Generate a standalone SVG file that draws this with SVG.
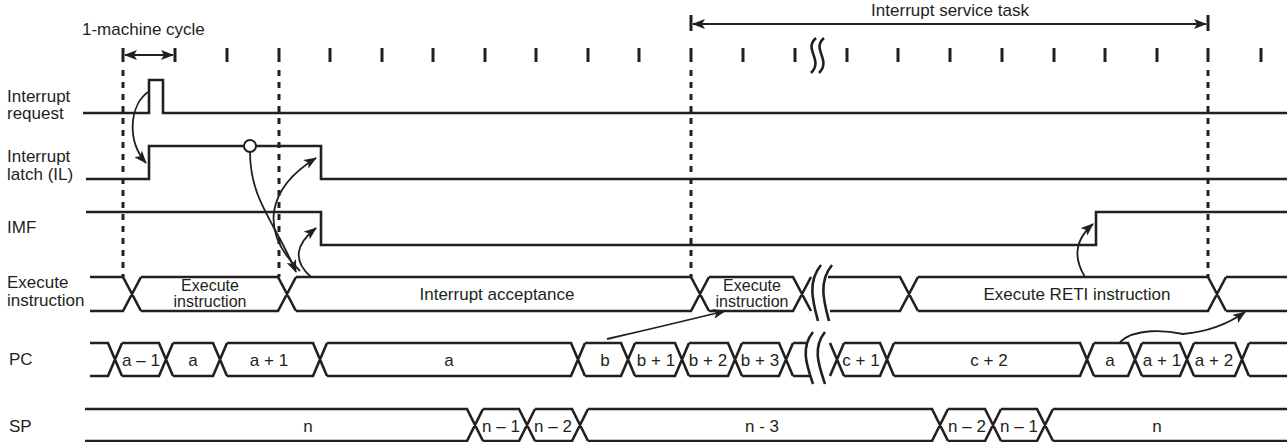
<svg xmlns="http://www.w3.org/2000/svg" width="1287" height="442" viewBox="0 0 1287 442">
<style>
.t{font-family:"Liberation Sans",Arial,Helvetica,sans-serif;font-size:17px;fill:#231f20}
.s{font-size:16px}
.m{text-anchor:middle}
.sig{fill:none;stroke:#231f20;stroke-width:2.6;stroke-linejoin:miter}
.tick{stroke:#231f20;stroke-width:3}
.dash{stroke:#231f20;stroke-width:3;stroke-dasharray:6 6}
.brk{fill:none;stroke:#231f20;stroke-width:2.6}
.con{fill:none;stroke:#231f20;stroke-width:1.8}
</style>
<defs>
<marker id="ah" viewBox="0 0 13 10" refX="12" refY="5" markerWidth="13" markerHeight="10" markerUnits="userSpaceOnUse" orient="auto-start-reverse">
<path d="M0,0 L13,5 L0,10 L3,5 Z" fill="#231f20"/>
</marker>
</defs>
<rect width="1287" height="442" fill="#fff"/>

<g id="timescale">
<text class="t" x="82" y="35">1-machine cycle</text>
<text class="t m" x="950" y="16">Interrupt service task</text>
<g class="tick">
<line x1="123" y1="48" x2="123" y2="62"/><line x1="175" y1="48" x2="175" y2="62"/>
<line x1="227" y1="48" x2="227" y2="62"/><line x1="279" y1="48" x2="279" y2="62"/>
<line x1="330" y1="48" x2="330" y2="62"/><line x1="382" y1="48" x2="382" y2="62"/>
<line x1="433" y1="48" x2="433" y2="62"/><line x1="485" y1="48" x2="485" y2="62"/>
<line x1="536" y1="48" x2="536" y2="62"/><line x1="588" y1="48" x2="588" y2="62"/>
<line x1="639" y1="48" x2="639" y2="62"/><line x1="691" y1="48" x2="691" y2="62"/>
<line x1="743" y1="48" x2="743" y2="62"/><line x1="795" y1="48" x2="795" y2="62"/>
<line x1="847" y1="48" x2="847" y2="62"/><line x1="898" y1="48" x2="898" y2="62"/>
<line x1="950" y1="48" x2="950" y2="62"/><line x1="1002" y1="48" x2="1002" y2="62"/>
<line x1="1054" y1="48" x2="1054" y2="62"/><line x1="1105" y1="48" x2="1105" y2="62"/>
<line x1="1157" y1="48" x2="1157" y2="62"/><line x1="1208" y1="48" x2="1208" y2="62"/>
<line x1="1261" y1="48" x2="1261" y2="62"/>
<line x1="691" y1="15" x2="691" y2="31"/><line x1="1208" y1="15" x2="1208" y2="31"/>
</g>
<path class="brk" d="M816 38 C803 49,824 60,811 73 M824 38 C811 49,832 60,819 73"/>
<g class="dash">
<line x1="123" y1="70" x2="123" y2="277"/><line x1="279" y1="70" x2="279" y2="277"/>
<line x1="691" y1="70" x2="691" y2="277"/><line x1="1208" y1="70" x2="1208" y2="277"/>
</g>
</g>

<g id="interrupt-request">
<text class="t" x="7" y="102">Interrupt</text>
<text class="t" x="7" y="119">request</text>
<path class="sig" d="M83 113 H149 V80 H163 V113 H1287"/>
</g>

<g id="interrupt-latch">
<text class="t" x="7" y="162">Interrupt</text>
<text class="t" x="7" y="180">latch (IL)</text>
<path class="sig" d="M86 179 H149 V146 H321 V179 H1287"/>
</g>

<g id="imf">
<text class="t" x="7" y="233">IMF</text>
<path class="sig" d="M86 212 H321 V245 H1096 V212 H1287"/>
</g>

<g id="execute-instruction">
<text class="t" x="7" y="288">Execute</text>
<text class="t" x="7" y="306">instruction</text>
<path class="sig" d="M90 277 H123 L141 311 M90 311 H123 L141 277
M141 277 H278 L296 311 M141 311 H278 L296 277
M296 277 H691 L709 311 M296 311 H691 L709 277
M709 277 H793 L811 311 M709 311 H793 L811 277
M828 277 H900 L918 311 M830 311 H900 L918 277
M918 277 H1208 L1226 311 M918 311 H1208 L1226 277
M1226 277 H1287 M1226 311 H1287"/>
<path class="brk" d="M821 265 C807 282,813 302,818 321 M832 265 C818 282,824 302,829 321"/>
<text class="t s m" x="210" y="291">Execute</text>
<text class="t s m" x="210" y="307">instruction</text>
<text class="t m" x="497" y="300">Interrupt acceptance</text>
<text class="t s m" x="752" y="291">Execute</text>
<text class="t s m" x="752" y="307">instruction</text>
<text class="t m" x="1077" y="300">Execute RETI instruction</text>
</g>

<g id="pc">
<text class="t" x="9" y="365">PC</text>
<path class="sig" d="M90 343 H108 L122 376 M90 376 H108 L122 343
M122 343 H159 L173 376 M122 376 H159 L173 343
M173 343 H213 L227 376 M173 376 H213 L227 343
M227 343 H313 L327 376 M227 376 H313 L327 343
M327 343 H571 L585 376 M327 376 H571 L585 343
M585 343 H621 L635 376 M585 376 H621 L635 343
M635 343 H675 L689 376 M635 376 H675 L689 343
M689 343 H728 L742 376 M689 376 H728 L742 343
M742 343 H779 L793 376 M742 376 H779 L793 343
M793 343 H807 M793 376 H810
M830 343 L844 376 M830 376 L844 343
M844 343 H880 L894 376 M844 376 H880 L894 343
M894 343 H1080 L1094 376 M894 376 H1080 L1094 343
M1094 343 H1128 L1142 376 M1094 376 H1128 L1142 343
M1142 343 H1180 L1194 376 M1142 376 H1180 L1194 343
M1194 343 H1235 L1249 376 M1194 376 H1235 L1249 343
M1249 343 H1287 M1249 376 H1287"/>
<path class="brk" d="M813 332 C800 348,807 366,813 384 M825 332 C812 348,819 366,825 384"/>
<text class="t m" x="141" y="366">a – 1</text>
<text class="t m" x="193" y="366">a</text>
<text class="t m" x="269" y="366">a + 1</text>
<text class="t m" x="449" y="366">a</text>
<text class="t m" x="605" y="366">b</text>
<text class="t m" x="656" y="366">b + 1</text>
<text class="t m" x="708" y="366">b + 2</text>
<text class="t m" x="760" y="366">b + 3</text>
<text class="t m" x="861" y="366">c + 1</text>
<text class="t m" x="989" y="366">c + 2</text>
<text class="t m" x="1110" y="366">a</text>
<text class="t m" x="1162" y="366">a + 1</text>
<text class="t m" x="1214" y="366">a + 2</text>
</g>

<g id="sp">
<text class="t" x="9" y="432">SP</text>
<path class="sig" d="M85 409 H467 L483 441 M85 441 H467 L483 409
M483 409 H519 L535 441 M483 441 H519 L535 409
M535 409 H572 L588 441 M535 441 H572 L588 409
M588 409 H932 L948 441 M588 441 H932 L948 409
M948 409 H985 L1001 441 M948 441 H985 L1001 409
M1001 409 H1037 L1053 441 M1001 441 H1037 L1053 409
M1053 409 H1287 M1053 441 H1287"/>
<text class="t m" x="308" y="432">n</text>
<text class="t m" x="501" y="432">n – 1</text>
<text class="t m" x="553" y="432">n – 2</text>
<text class="t m" x="762" y="432">n - 3</text>
<text class="t m" x="967" y="432">n – 2</text>
<text class="t m" x="1019" y="432">n – 1</text>
<text class="t m" x="1157" y="432">n</text>
</g>

<g id="connectors">
<line class="con" x1="125" y1="55" x2="173" y2="55" marker-start="url(#ah)" marker-end="url(#ah)"/>
<line class="con" x1="693" y1="24" x2="1206" y2="24" marker-start="url(#ah)" marker-end="url(#ah)"/>
<path class="con" d="M148 92 C130 105,126 140,146 163" marker-end="url(#ah)"/>
<circle cx="250" cy="146" r="6" fill="#fff" stroke="#231f20" stroke-width="2"/>
<path class="con" d="M250 152 C250 200,275 222,296 272" marker-end="url(#ah)"/>
<path class="con" d="M300 271 C258 230,268 188,316 158" marker-end="url(#ah)"/>
<path class="con" d="M311 277 C292 260,296 244,316 228" marker-end="url(#ah)"/>
<path class="con" d="M1085 277 C1072 256,1077 238,1093 224" marker-end="url(#ah)"/>
<path class="con" d="M607 339 Q668 325 725 311" marker-end="url(#ah)"/>
<path class="con" d="M1120 342 C1135 328,1165 330,1183 334 C1205 332,1228 324,1245 312" marker-end="url(#ah)"/>
</g>
</svg>
